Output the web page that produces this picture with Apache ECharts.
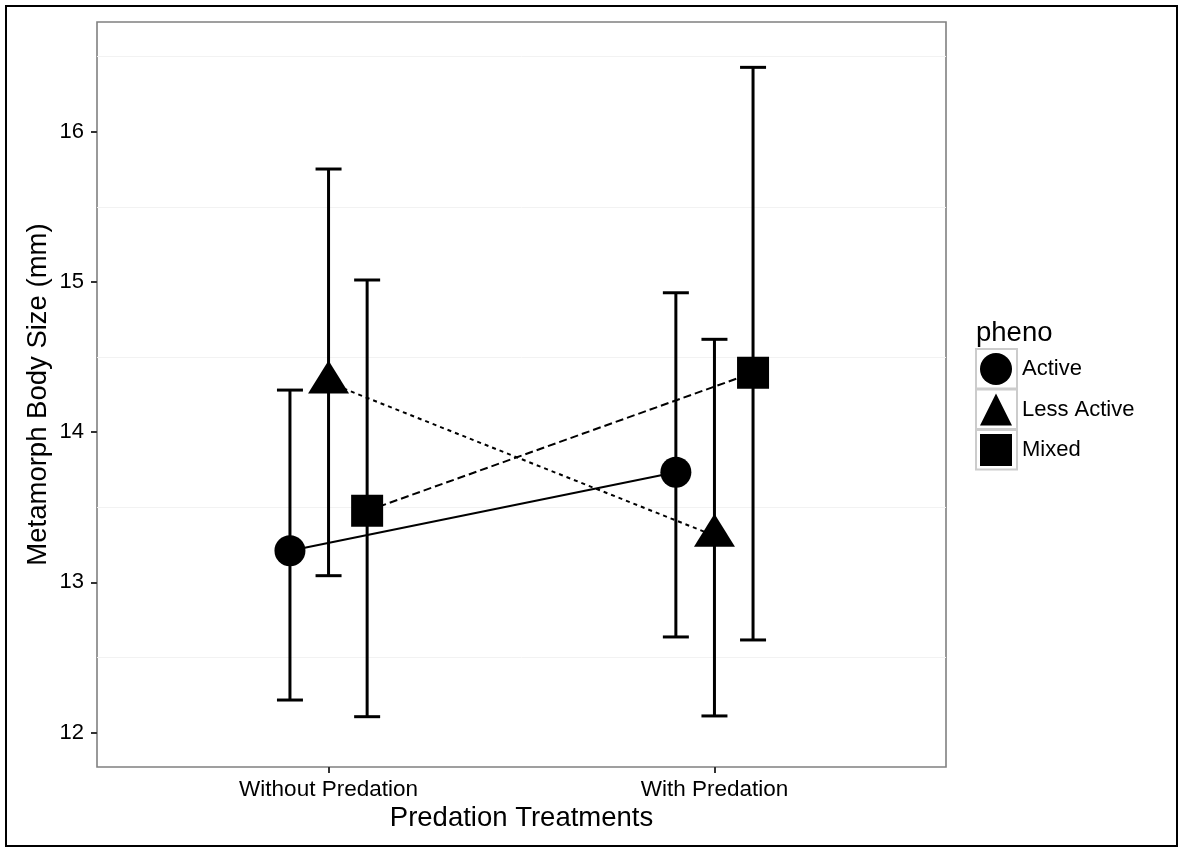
<!DOCTYPE html>
<html>
<head>
<meta charset="utf-8">
<script src="https://cdn.jsdelivr.net/npm/echarts@6/dist/echarts.min.js"></script>
<style>
html,body{margin:0;padding:0;background:#fff;}
#chart{width:1182px;height:848px;}
</style>
</head>
<body>
<div id="chart"></div>
<script>
// ---- data ----
const categories = ['Without Predation', 'With Predation'];
const phenos = ['Active', 'Less Active', 'Mixed'];
const activeMean = [13.21, 13.733];
const activeLow = [12.216, 12.636];
const activeHigh = [14.280, 14.928];
const lessMean = [14.33, 13.31];
const lessLow = [13.044, 12.11];
const lessHigh = [15.752, 14.618];
const mixedMean = [13.476, 14.395];
const mixedLow = [12.105, 12.616];
const mixedHigh = [15.013, 16.429];
const yTicks = [12, 13, 14, 15, 16];
const yMinorGrid = [12.5, 13.5, 14.5, 15.5, 16.5];

// ---- build ----
const FONT = 'Liberation Sans, Arial, Helvetica, sans-serif';
const dodge = [-0.1, 0, 0.1];
const means = [activeMean, lessMean, mixedMean];
const lows = [activeLow, lessLow, mixedLow];
const highs = [activeHigh, lessHigh, mixedHigh];
const symbols = ['circle', 'triangle', 'rect'];
const symbolSizes = [31, [41, 33], 32];
const symbolOffsets = [[0, 0], [0, -5.5], [0, 0]];
const lineTypes = ['solid', [4, 4], [8, 4]];

const series = [];
phenos.forEach((p, i) => {
  const errData = categories.map((c, k) => [k + 1 + dodge[i], lows[i][k], highs[i][k]]);
  series.push({
    type: 'custom',
    name: p + ' err',
    xAxisIndex: 0, yAxisIndex: 0,
    data: errData,
    z: 2,
    silent: true,
    renderItem: function (params, api) {
      const x = api.value(0), lo = api.value(1), hi = api.value(2);
      const pLo = api.coord([x, lo]);
      const pHi = api.coord([x, hi]);
      const hw = 13;
      const style = { stroke: '#000', lineWidth: 3, fill: null };
      return {
        type: 'group',
        children: [
          { type: 'line', shape: { x1: pLo[0], y1: pLo[1], x2: pHi[0], y2: pHi[1] }, style: style },
          { type: 'line', shape: { x1: pHi[0] - hw, y1: pHi[1], x2: pHi[0] + hw, y2: pHi[1] }, style: style },
          { type: 'line', shape: { x1: pLo[0] - hw, y1: pLo[1], x2: pLo[0] + hw, y2: pLo[1] }, style: style }
        ]
      };
    }
  });
});
phenos.forEach((p, i) => {
  series.push({
    type: 'line',
    name: p,
    xAxisIndex: 0, yAxisIndex: 0,
    data: categories.map((c, k) => [k + 1 + dodge[i], means[i][k]]),
    symbol: symbols[i],
    symbolSize: symbolSizes[i],
    symbolOffset: symbolOffsets[i],
    showSymbol: true,
    z: 3,
    lineStyle: { color: '#000', width: 2, type: lineTypes[i] },
    itemStyle: { color: '#000', borderWidth: 0 },
    emphasis: { disabled: true },
    animation: false
  });
});

const chart = echarts.init(document.getElementById('chart'), null, { renderer: 'canvas' });
chart.setOption({
  animation: false,
  backgroundColor: '#fff',
  textStyle: { fontFamily: FONT },
  grid: {
    left: 97, right: 236, top: 22, bottom: 81,
    show: true, borderColor: '#808080', borderWidth: 1.6, backgroundColor: 'transparent'
  },
  xAxis: [{
    type: 'value', min: 0.4, max: 2.6,
    axisLine: { show: false },
    axisTick: { show: true, length: 6, lineStyle: { color: '#333', width: 2 }, customValues: [1, 2] },
    axisLabel: {
      customValues: [1, 2], margin: 11,
      formatter: v => categories[Math.round(v) - 1] || '',
      fontSize: 22.5, color: '#000', fontFamily: FONT
    },
    splitLine: { show: false },
    name: 'Predation Treatments', nameLocation: 'middle', nameGap: 37, nameMoveOverlap: false,
    nameTextStyle: { fontSize: 27.5, color: '#000', fontFamily: FONT }
  }],
  yAxis: [{
    type: 'value', min: 11.77, max: 16.731,
    axisLine: { show: false },
    axisTick: { show: true, length: 6, lineStyle: { color: '#333', width: 2 }, customValues: yTicks },
    axisLabel: { customValues: yTicks, margin: 13, fontSize: 22, color: '#000', fontFamily: FONT },
    splitLine: { show: false },
    name: 'Metamorph Body Size (mm)', nameLocation: 'middle', nameGap: 45, nameRotate: 90, nameMoveOverlap: false,
    nameTextStyle: { fontSize: 27.5, color: '#000', fontFamily: FONT }
  }, {
    type: 'value', min: 11.77, max: 16.731, position: 'left',
    axisLine: { show: false },
    axisTick: { show: false, customValues: yMinorGrid },
    axisLabel: { show: false, customValues: yMinorGrid },
    splitLine: { show: true, lineStyle: { color: '#f2f2f2', width: 1 } }
  }],
  legend: {
    orient: 'vertical', left: 975, top: 348,
    itemWidth: 32, itemHeight: 32, itemGap: 8.5,
    data: phenos.map((p, i) => ({ name: p, icon: symbols[i] })),
    textStyle: { fontSize: 22, color: '#000', fontFamily: FONT, padding: [0, 0, 0, 5] },
    itemStyle: { color: '#000', borderWidth: 0 },
    lineStyle: { width: 0 },
    selectedMode: false
  },
  graphic: [
    { type: 'rect', z: 0, shape: { x: 976, y: 349, width: 41, height: 39.5 }, style: { fill: '#fff', stroke: '#cccccc', lineWidth: 2 } },
    { type: 'rect', z: 0, shape: { x: 976, y: 389.5, width: 41, height: 39.5 }, style: { fill: '#fff', stroke: '#cccccc', lineWidth: 2 } },
    { type: 'rect', z: 0, shape: { x: 976, y: 430, width: 41, height: 39.5 }, style: { fill: '#fff', stroke: '#cccccc', lineWidth: 2 } },
    { type: 'text', z: 5, x: 976, y: 333, style: { text: 'pheno', fontSize: 27.5, fill: '#000', fontFamily: FONT, verticalAlign: 'middle', align: 'left' } },
    { type: 'rect', z: 10, shape: { x: 6, y: 6, width: 1171, height: 840 }, style: { fill: null, stroke: '#000', lineWidth: 2 } }
  ],
  series: series
});
</script>
</body>
</html>
